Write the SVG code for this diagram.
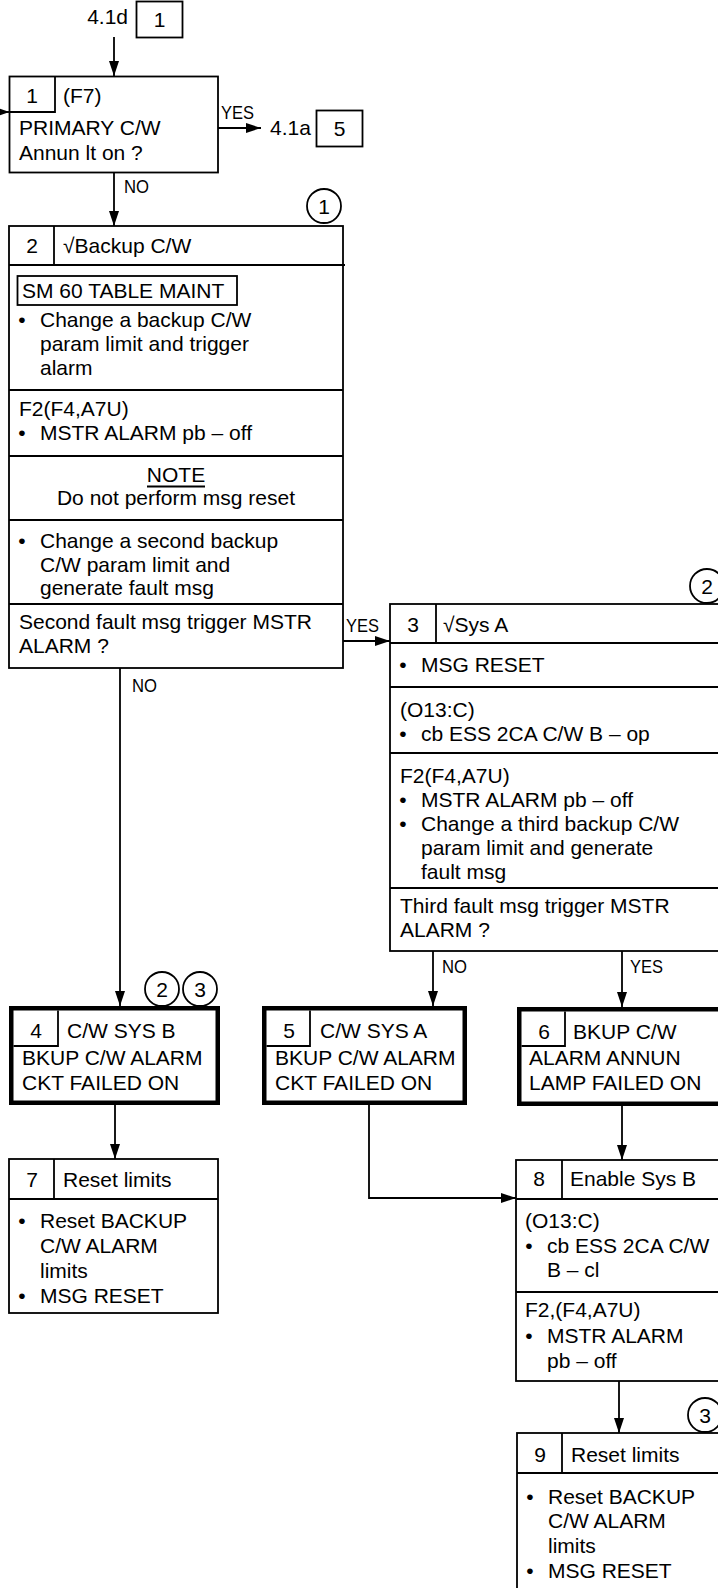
<svg xmlns="http://www.w3.org/2000/svg" width="718" height="1588" viewBox="0 0 718 1588">
<defs>
<style>
.t{font-family:"Liberation Sans",Arial,Helvetica,sans-serif;font-size:21px;fill:#000}
.m{text-anchor:middle}
.lbl{font-family:"Liberation Sans",Arial,Helvetica,sans-serif;font-size:19px;fill:#000}
.bx{fill:#fff;stroke:#000;stroke-width:1.8}
.tk{fill:#fff;stroke:#000;stroke-width:4.5}
.ln{fill:none;stroke:#000;stroke-width:1.8}
.cn{fill:none;stroke:#000;stroke-width:1.8}
</style>
<marker id="ah" markerUnits="userSpaceOnUse" markerWidth="15" markerHeight="10" refX="15" refY="5" orient="auto">
<path d="M0,0 L15,5 L0,10 z" fill="#000"/>
</marker>
</defs>
<rect width="718" height="1588" fill="#fff"/>

<g id="connectors">
<path class="cn" d="M114,37 V76" marker-end="url(#ah)"/>
<path class="cn" d="M0,112 H9.5" marker-end="url(#ah)"/>
<path class="cn" d="M218,128 H261" marker-end="url(#ah)"/>
<path class="cn" d="M114,172.5 V226" marker-end="url(#ah)"/>
<path class="cn" d="M343,641 H390" marker-end="url(#ah)"/>
<path class="cn" d="M120,668 V1006" marker-end="url(#ah)"/>
<path class="cn" d="M433,951 V1006" marker-end="url(#ah)"/>
<path class="cn" d="M622,951 V1007" marker-end="url(#ah)"/>
<path class="cn" d="M115,1105 V1159" marker-end="url(#ah)"/>
<path class="cn" d="M369,1105 V1198 H516" marker-end="url(#ah)"/>
<path class="cn" d="M622,1106 V1160" marker-end="url(#ah)"/>
<path class="cn" d="M619,1381 V1433" marker-end="url(#ah)"/>
<text class="lbl" x="221" y="119" textLength="33" lengthAdjust="spacingAndGlyphs">YES</text>
<text class="lbl" x="124" y="193" textLength="25" lengthAdjust="spacingAndGlyphs">NO</text>
<text class="lbl" x="346" y="632" textLength="33" lengthAdjust="spacingAndGlyphs">YES</text>
<text class="lbl" x="132" y="692" textLength="25" lengthAdjust="spacingAndGlyphs">NO</text>
<text class="lbl" x="442" y="973" textLength="25" lengthAdjust="spacingAndGlyphs">NO</text>
<text class="lbl" x="630" y="973" textLength="33" lengthAdjust="spacingAndGlyphs">YES</text>
</g>

<g id="ref-in">
<text class="t" x="128" y="24" text-anchor="end">4.1d</text>
<rect class="bx" x="136.5" y="1.5" width="46" height="36"/>
<text class="t m" x="159.5" y="27">1</text>
</g>

<g id="ref-out">
<text class="t" x="270" y="135">4.1a</text>
<rect class="bx" x="316.5" y="110.5" width="46" height="36"/>
<text class="t m" x="339.5" y="136">5</text>
</g>

<g id="node1">
<rect class="bx" x="9.5" y="76.5" width="208.5" height="96"/>
<path class="ln" d="M9.5,112 H55 V76.5"/>
<text class="t m" x="32" y="103">1</text>
<text class="t" x="63" y="103">(F7)</text>
<text class="t" x="19" y="135">PRIMARY C/W</text>
<text class="t" x="19" y="160">Annun lt on ?</text>
</g>

<g id="node2">
<circle class="ln" cx="324" cy="206" r="17"/>
<text class="t m" x="324" y="213.5">1</text>
<rect class="bx" x="9" y="226" width="334" height="442"/>
<path class="ln" d="M9,265 H345 M54,226 V265 M9,390 H343 M9,456 H343 M9,520 H343 M9,604 H343"/>
<text class="t m" x="32" y="253">2</text>
<text class="t" x="63" y="253">√Backup C/W</text>
<rect class="ln" x="17.5" y="276" width="219.5" height="29"/>
<text class="t" x="22" y="298">SM 60 TABLE MAINT</text>
<text class="t m" x="22" y="327">•</text>
<text class="t" x="40" y="327">Change a backup C/W</text>
<text class="t" x="40" y="351">param limit and trigger</text>
<text class="t" x="40" y="375">alarm</text>
<text class="t" x="19" y="416">F2(F4,A7U)</text>
<text class="t m" x="22" y="440">•</text>
<text class="t" x="40" y="440">MSTR ALARM pb – off</text>
<text class="t m" x="176" y="482">NOTE</text>
<path class="ln" d="M147,486.5 H205"/>
<text class="t m" x="176" y="505">Do not perform msg reset</text>
<text class="t m" x="22" y="548">•</text>
<text class="t" x="40" y="548">Change a second backup</text>
<text class="t" x="40" y="572">C/W param limit and</text>
<text class="t" x="40" y="595">generate fault msg</text>
<text class="t" x="19" y="629">Second fault msg trigger MSTR</text>
<text class="t" x="19" y="653">ALARM ?</text>
</g>

<g id="node3">
<circle class="ln" cx="707" cy="586" r="17"/>
<text class="t m" x="707" y="593.5">2</text>
<rect class="bx" x="390" y="604" width="335" height="347"/>
<path class="ln" d="M390,643 H725 M436,604 V643 M390,687 H725 M390,753 H725 M390,888 H725"/>
<text class="t m" x="413" y="632">3</text>
<text class="t" x="443" y="632">√Sys A</text>
<text class="t m" x="403" y="672">•</text>
<text class="t" x="421" y="672">MSG RESET</text>
<text class="t" x="400" y="717">(O13:C)</text>
<text class="t m" x="403" y="741">•</text>
<text class="t" x="421" y="741">cb ESS 2CA C/W B – op</text>
<text class="t" x="400" y="783">F2(F4,A7U)</text>
<text class="t m" x="403" y="807">•</text>
<text class="t" x="421" y="807">MSTR ALARM pb – off</text>
<text class="t m" x="403" y="831">•</text>
<text class="t" x="421" y="831">Change a third backup C/W</text>
<text class="t" x="421" y="855">param limit and generate</text>
<text class="t" x="421" y="879">fault msg</text>
<text class="t" x="400" y="913">Third fault msg trigger MSTR</text>
<text class="t" x="400" y="937">ALARM ?</text>
</g>

<g id="node4">
<circle class="ln" cx="162" cy="989" r="17"/>
<text class="t m" x="162" y="996.5">2</text>
<circle class="ln" cx="200" cy="989" r="17"/>
<text class="t m" x="200" y="996.5">3</text>
<rect class="tk" x="11.25" y="1008.25" width="206.5" height="94.5"/>
<path class="ln" d="M13.5,1046 H58 V1010.5"/>
<text class="t m" x="36" y="1038">4</text>
<text class="t" x="67" y="1038">C/W SYS B</text>
<text class="t" x="22" y="1065">BKUP C/W ALARM</text>
<text class="t" x="22" y="1090">CKT FAILED ON</text>
</g>

<g id="node5">
<rect class="tk" x="264.25" y="1008.25" width="200.5" height="94.5"/>
<path class="ln" d="M266.5,1046 H310 V1010.5"/>
<text class="t m" x="289" y="1038">5</text>
<text class="t" x="320" y="1038">C/W SYS A</text>
<text class="t" x="275" y="1065">BKUP C/W ALARM</text>
<text class="t" x="275" y="1090">CKT FAILED ON</text>
</g>

<g id="node6">
<rect class="tk" x="519.25" y="1009.25" width="210" height="94.5"/>
<path class="ln" d="M521.5,1046 H565 V1011.5"/>
<text class="t m" x="544" y="1039">6</text>
<text class="t" x="573" y="1039">BKUP C/W</text>
<text class="t" x="529" y="1065">ALARM ANNUN</text>
<text class="t" x="529" y="1090">LAMP FAILED ON</text>
</g>

<g id="node7">
<rect class="bx" x="9" y="1159" width="209" height="154"/>
<path class="ln" d="M9,1199 H218 M54,1159 V1199"/>
<text class="t m" x="32" y="1187">7</text>
<text class="t" x="63" y="1187">Reset limits</text>
<text class="t m" x="22" y="1228">•</text>
<text class="t" x="40" y="1228">Reset BACKUP</text>
<text class="t" x="40" y="1253">C/W ALARM</text>
<text class="t" x="40" y="1278">limits</text>
<text class="t m" x="22" y="1303">•</text>
<text class="t" x="40" y="1303">MSG RESET</text>
</g>

<g id="node8">
<rect class="bx" x="516" y="1160" width="209" height="221"/>
<path class="ln" d="M516,1199 H725 M562,1160 V1199 M516,1292 H725"/>
<text class="t m" x="539" y="1186">8</text>
<text class="t" x="570" y="1186">Enable Sys B</text>
<text class="t" x="525" y="1228">(O13:C)</text>
<text class="t m" x="529" y="1253">•</text>
<text class="t" x="547" y="1253">cb ESS 2CA C/W</text>
<text class="t" x="547" y="1277">B – cl</text>
<text class="t" x="525" y="1317">F2,(F4,A7U)</text>
<text class="t m" x="529" y="1343">•</text>
<text class="t" x="547" y="1343">MSTR ALARM</text>
<text class="t" x="547" y="1368">pb – off</text>
</g>

<g id="node9">
<circle class="ln" cx="705" cy="1415" r="17"/>
<text class="t m" x="705" y="1422.5">3</text>
<rect class="bx" x="517" y="1433" width="209" height="200"/>
<path class="ln" d="M517,1473 H726 M562,1433 V1473"/>
<text class="t m" x="540" y="1462">9</text>
<text class="t" x="571" y="1462">Reset limits</text>
<text class="t m" x="530" y="1504">•</text>
<text class="t" x="548" y="1504">Reset BACKUP</text>
<text class="t" x="548" y="1528">C/W ALARM</text>
<text class="t" x="548" y="1553">limits</text>
<text class="t m" x="530" y="1578">•</text>
<text class="t" x="548" y="1578">MSG RESET</text>
</g>
</svg>
